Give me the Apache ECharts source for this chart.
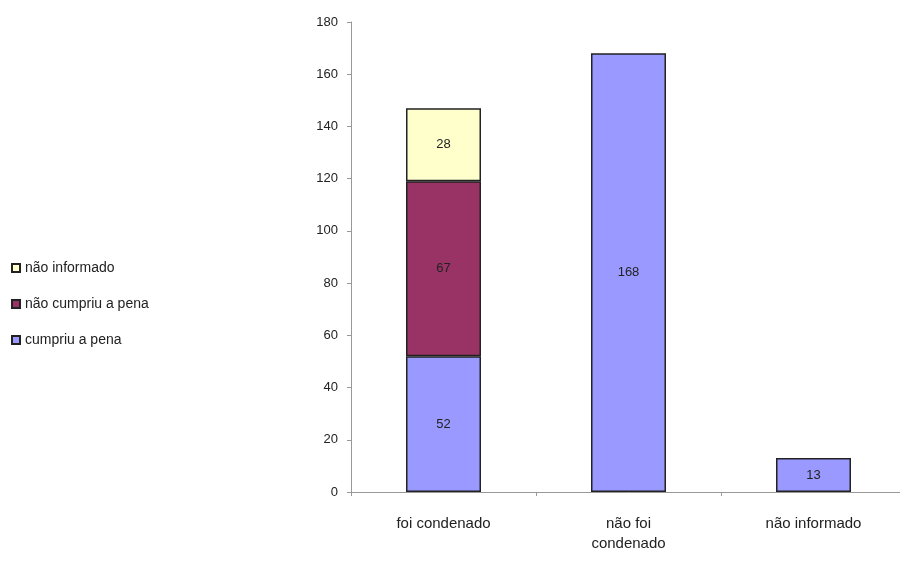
<!DOCTYPE html>
<html>
<head>
<meta charset="utf-8">
<script src="https://cdn.jsdelivr.net/npm/echarts@6/dist/echarts.min.js"></script>
<style>html,body{margin:0;padding:0;background:#fff;overflow:hidden}#c{width:906px;height:562px}</style>
</head>
<body>
<div id="c"></div>
<script>
const categories = ['foi condenado', 'não foi\ncondenado', 'não informado'];
const cumpriu = [52, 168, 13];
const naoCumpriu = [67, null, null];
const naoInformado = [28, null, null];
const yTicks = { min: 0, max: 180, interval: 20 };

const chart = echarts.init(document.getElementById('c'));
const labelStyle = { show: true, position: 'inside', fontFamily: 'Liberation Sans, Arial', fontSize: 13, color: '#222' };
const itemBorder = { borderColor: '#222', borderWidth: 1.5 };

chart.setOption({
  animation: false,
  textStyle: { fontFamily: 'Liberation Sans, Arial' },
  legend: {
    orient: 'vertical',
    left: 6,
    top: 256,
    itemWidth: 8,
    itemHeight: 8,
    itemGap: 22,
    icon: 'rect',
    data: ['não informado', 'não cumpriu a pena', 'cumpriu a pena'],
    textStyle: { fontSize: 14, color: '#222' }
  },
  grid: { left: 351, right: 0, top: 22, bottom: 70 },
  xAxis: {
    type: 'category',
    data: categories,
    axisLine: { lineStyle: { color: '#999' } },
    axisTick: { show: true, alignWithLabel: false, length: 4, lineStyle: { color: '#999' } },
    axisLabel: { fontSize: 15, color: '#222', margin: 22, lineHeight: 20 }
  },
  yAxis: {
    type: 'value',
    min: yTicks.min,
    max: yTicks.max,
    interval: yTicks.interval,
    splitLine: { show: false },
    axisLine: { show: true, lineStyle: { color: '#999' } },
    axisTick: { show: true, length: 4, lineStyle: { color: '#999' } },
    axisLabel: { fontSize: 13, color: '#222', margin: 13 }
  },
  series: [
    { name: 'cumpriu a pena', type: 'bar', stack: 't', data: cumpriu, barWidth: 75,
      itemStyle: Object.assign({ color: '#9999FF' }, itemBorder), label: labelStyle },
    { name: 'não cumpriu a pena', type: 'bar', stack: 't', data: naoCumpriu, barWidth: 75,
      itemStyle: Object.assign({ color: '#993366' }, itemBorder), label: labelStyle },
    { name: 'não informado', type: 'bar', stack: 't', data: naoInformado, barWidth: 75,
      itemStyle: Object.assign({ color: '#FFFFCC' }, itemBorder), label: labelStyle }
  ]
});
</script>
</body>
</html>
